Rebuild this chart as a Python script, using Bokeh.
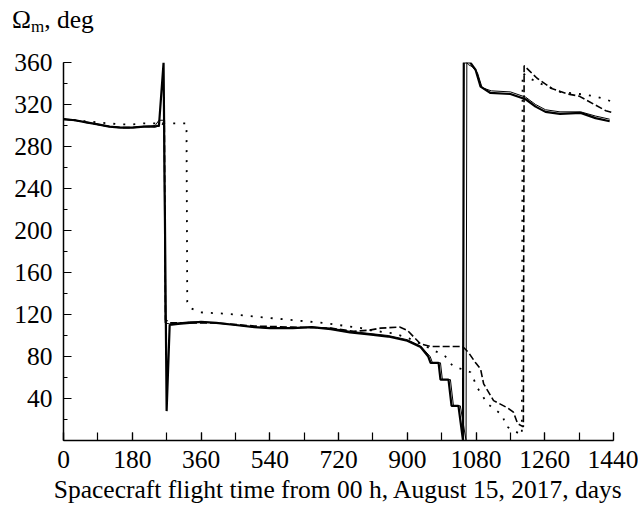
from bokeh.plotting import figure
from bokeh.models import FixedTicker, Range1d, Div
from bokeh.layouts import column
from bokeh.embed import file_html
from bokeh.resources import INLINE

# thick solid line
s1_day = [0, 30, 60, 90, 120, 150, 180, 210, 240, 250, 262, 270, 278, 300, 330, 360, 400, 450, 500,
          540, 600, 650, 700, 750, 800, 850, 900, 935, 955, 961, 982, 987, 1008, 1016, 1034, 1046,
          1048, 1050, 1065, 1079, 1092, 1118, 1170, 1210, 1236, 1262, 1300, 1354, 1393, 1430]
s1_val = [306, 305, 303, 301, 299, 298, 298, 299, 299, 300, 360, 28, 110, 111, 112, 113, 112, 110, 108,
          107, 107, 108, 106, 103, 101, 99, 95, 89, 80, 74, 74, 58, 58, 33, 33, 0,
          360, 360, 360, 353, 337, 331, 330, 325, 318, 313, 311, 312, 307, 304]

# thin solid line
s2_day = [0, 30, 60, 90, 120, 150, 180, 210, 240, 250, 263, 266, 278, 300, 330, 360, 400, 450, 500,
          540, 600, 650, 700, 750, 800, 850, 900, 935, 960, 966, 987, 992, 1013, 1021, 1039, 1054,
          1056, 1060, 1070, 1084, 1096, 1120, 1170, 1210, 1236, 1262, 1300, 1354, 1393, 1430]
s2_val = [306, 305, 303, 301, 299, 298, 298, 299, 300, 305, 305, 112, 111, 112, 113, 113, 112, 110, 108,
          107, 107, 108, 107, 104, 102, 100, 96, 90, 80, 74, 74, 58, 58, 33, 33, 0,
          360, 358, 356, 350, 336, 333, 332, 327, 320, 315, 313, 313, 309, 306]

# dashed line
s3_day = [0, 30, 60, 90, 120, 150, 180, 210, 240, 258, 264, 267, 280, 330, 400, 500, 600, 700, 760,
          800, 830, 880, 900, 935, 961, 1045, 1060, 1079, 1092, 1100, 1126, 1163, 1178, 1189, 1204,
          1206, 1220, 1240, 1280, 1320, 1350, 1390, 1420, 1440]
s3_val = [306, 305, 303, 301, 299, 298, 298, 299, 299, 300, 305, 115, 112, 112, 112, 109, 108, 107, 104,
          105, 107, 108, 105, 92, 89.5, 89.5, 84, 74, 68, 54, 38, 31, 27, 16, 13,
          357, 352, 345, 335, 330, 328, 320, 314, 312]

# dotted line
s4_day = [0, 30, 60, 90, 120, 150, 180, 210, 240, 270, 300, 322, 324, 333, 359, 411, 450, 500, 560,
          620, 680, 720, 780, 804, 864, 900, 935, 969, 1000, 1019, 1066, 1084, 1110, 1150, 1157, 1191,
          1200, 1202, 1220, 1260, 1300, 1350, 1390, 1420, 1440]
s4_val = [306, 305, 304, 303, 302, 301, 301, 302, 302, 302, 302, 302, 132, 126, 122, 121, 120, 118, 116,
          114, 112, 110, 107, 105, 102, 98, 92, 86, 80, 71, 65, 50, 35, 24, 14, 7,
          5, 350, 345, 338, 332, 330, 328, 325, 322]

x_ticks = [0, 180, 360, 540, 720, 900, 1080, 1260, 1440]
y_ticks = [40, 80, 120, 160, 200, 240, 280, 320, 360]

FONT = "Liberation Serif"
FS = "25.5px"
HEAD = 40

header = Div(
    text=("<div style=\"font-family:'Liberation Serif';font-size:25.5px;color:black;"
          "line-height:1;padding-left:12px;padding-top:7px;white-space:nowrap\">"
          "\u03a9<sub style=\"font-size:17px;vertical-align:-4px;line-height:0\">m</sub>, deg</div>"),
    width=638, height=HEAD, margin=0)

p = figure(width=638, height=508 - HEAD, output_backend="svg", toolbar_location=None,
           x_range=Range1d(0, 1440), y_range=Range1d(0, 360), margin=0,
           min_border_left=63, min_border_right=25, min_border_top=62 - HEAD, min_border_bottom=68)
p.outline_line_color = None
p.grid.grid_line_color = None
p.background_fill_color = "white"
p.border_fill_color = "white"

p.line(s1_day, s1_val, line_color="black", line_width=2.2)
p.line(s2_day, s2_val, line_color="black", line_width=1.0)
p.line(s3_day, s3_val, line_color="black", line_width=1.6, line_dash="7 3")
p.line(s4_day, s4_val, line_color="black", line_width=1.8, line_dash="2 8")

xa = p.xaxis[0]
xa.ticker = FixedTicker(ticks=x_ticks, minor_ticks=[90 * i for i in range(17)])
xa.major_tick_in = 8
xa.major_tick_out = 0
xa.minor_tick_in = 8
xa.minor_tick_out = 0
xa.axis_label = "Spacecraft flight time from 00 h, August 15, 2017, days"
xa.axis_label_text_font = FONT
xa.axis_label_text_font_style = "normal"
xa.axis_label_text_font_size = FS
xa.major_label_text_font = FONT
xa.major_label_text_font_size = FS
xa.major_label_standoff = 10
xa.axis_label_standoff = 4

ya = p.yaxis[0]
ya.ticker = FixedTicker(ticks=y_ticks, minor_ticks=[20 * i for i in range(19)])
ya.major_tick_in = 8
ya.major_tick_out = 0
ya.minor_tick_in = 4
ya.minor_tick_out = 0
ya.major_label_text_font = FONT
ya.major_label_text_font_size = FS
ya.major_label_standoff = 11

for ax in (xa, ya):
    ax.axis_line_color = "black"
    ax.axis_line_width = 1.5
    ax.major_tick_line_color = "black"
    ax.minor_tick_line_color = "black"
    ax.major_tick_line_width = 1.2
    ax.minor_tick_line_width = 1.2
    ax.major_label_text_color = "black"
    ax.axis_label_text_color = "black"

layout = column(header, p, spacing=0, margin=0)
open("out.html", "w").write(file_html(layout, INLINE))
